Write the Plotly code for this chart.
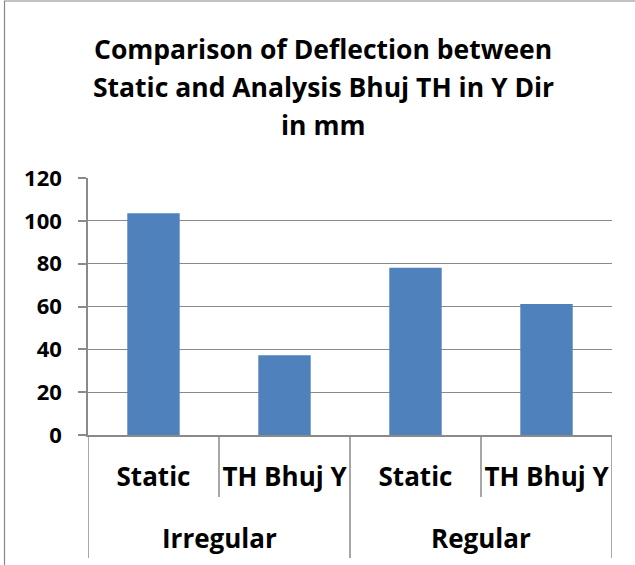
import plotly.graph_objects as go

groups = ["Irregular", "Irregular", "Regular", "Regular"]
subcats = ["Static", "TH Bhuj Y", "Static", "TH Bhuj Y"]
values = [103.5, 37.2, 78.1, 61.2]
y_ticks = [0, 20, 40, 60, 80, 100, 120]
title_lines = ["Comparison of Deflection between",
               "Static and Analysis Bhuj TH in Y Dir",
               "in mm"]

FONT = "Open Sans"
GRID = "#8a8a8a"
BAR = "#4F81BD"

# plot-area geometry (pixels)
W, H = 635, 565
L, R, T, B = 88, 23, 178, 130
PW, PH = W - L - R, H - T - B

def py(pix):  # pixel y -> paper y
    return (H - B - pix) / PH

def px(pix):
    return (pix - L) / PW

xpos = list(range(len(values)))

fig = go.Figure()
fig.add_trace(go.Bar(
    x=xpos, y=values,
    marker=dict(color=BAR, line=dict(width=0)),
    width=0.4,
))

fig.update_layout(
    width=W, height=H,
    margin=dict(l=L, r=R, t=T, b=B),
    paper_bgcolor="white", plot_bgcolor="white",
    showlegend=False,
    font=dict(family=FONT, color="black"),
)
fig.update_xaxes(
    range=[-0.5, len(values) - 0.5],
    tickvals=xpos, ticktext=subcats,
    showline=True, linecolor=GRID, linewidth=1.5,
    ticks="", ticklabelstandoff=18,
    tickfont=dict(family=FONT, size=26, color="black", weight="bold"),
    showgrid=False, zeroline=False, automargin=False,
)
fig.update_yaxes(
    range=[0, 120], tickvals=y_ticks,
    showgrid=True, gridcolor=GRID, gridwidth=1.3,
    showline=True, linecolor=GRID, linewidth=1.5,
    ticks="outside", ticklen=8, tickcolor=GRID, tickwidth=1.5,
    ticklabelstandoff=12,
    tickfont=dict(family=FONT, size=22, color="black", weight="bold"),
    zeroline=False, automargin=False,
)

# category separators (short) and group dividers (long)
for i in range(len(values) + 1):
    xb = i - 0.5
    is_group_edge = (i == 0 or i == len(values) or groups[i] != groups[i - 1])
    y1 = py(558) if is_group_edge else py(497)
    fig.add_shape(type="line", xref="x", yref="paper", x0=xb, x1=xb, y0=0, y1=y1,
                  line=dict(color=GRID, width=1.5))

# group labels
seen = []
for g in groups:
    if g not in seen:
        seen.append(g)
for g in seen:
    idx = [i for i, gg in enumerate(groups) if gg == g]
    fig.add_annotation(x=sum(idx) / len(idx), y=py(538), xref="x", yref="paper",
                       text=g, showarrow=False, yanchor="middle",
                       font=dict(family=FONT, size=26, color="black", weight="bold"))

# title lines
for line, ycen in zip(title_lines, [49, 87, 125]):
    fig.add_annotation(x=px(323), y=py(ycen), xref="paper", yref="paper",
                       text=line, showarrow=False, yanchor="middle", xanchor="center",
                       font=dict(family=FONT, size=26.5, color="black", weight="bold"))

# chart-area border
fig.add_shape(type="rect", xref="paper", yref="paper",
              x0=px(4.5), x1=px(W + 20), y0=py(H + 20), y1=py(1),
              line=dict(color="#888888", width=1.2), fillcolor="rgba(0,0,0,0)", layer="below")

fig.write_html("out.html",
               config={"displayModeBar": False},
               post_script="document.body.style.margin='0px';document.body.style.overflow='hidden';")
